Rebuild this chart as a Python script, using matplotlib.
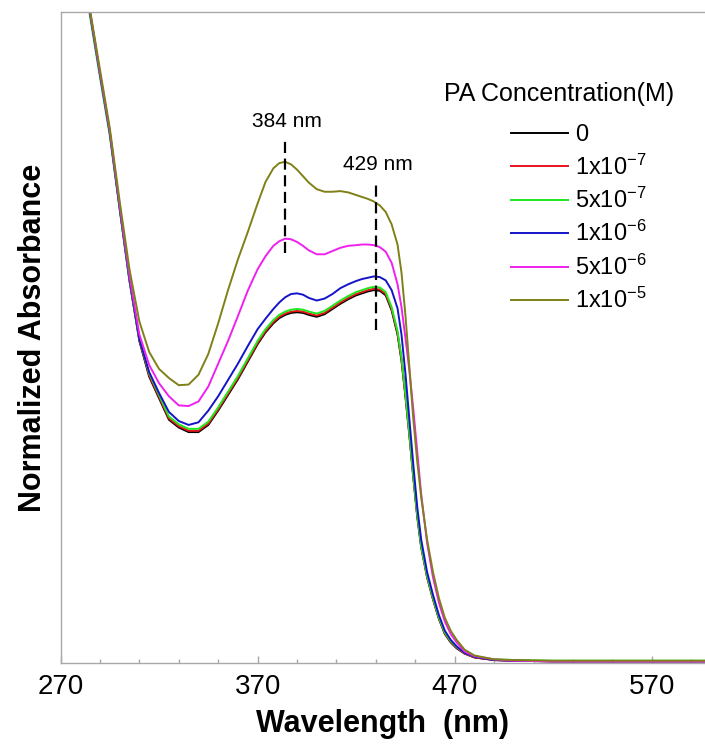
import matplotlib
matplotlib.use("Agg")
import matplotlib.pyplot as plt
from matplotlib.ticker import FixedLocator, NullFormatter

plt.rcParams['font.family'] = ['Liberation Sans', 'DejaVu Sans']
plt.rcParams['mathtext.fontset'] = 'custom'
plt.rcParams['mathtext.rm'] = 'Liberation Sans'
plt.rcParams['mathtext.it'] = 'Liberation Sans:italic'
plt.rcParams['mathtext.bf'] = 'Liberation Sans:bold'

# wavelength grid (nm) shared by all spectra
wavelength = [270, 275, 280, 285, 290, 295, 300, 305, 310, 315, 320, 325, 330, 335, 340,
              345, 350, 355, 360, 365, 370,
              374, 378, 381, 384, 387, 390, 393, 396,
              400, 404, 408, 412, 416, 420,
              423, 426, 429, 432, 435, 438, 441,
              443, 445, 447, 449, 451, 453,
              456, 459, 462, 465, 468, 471,
              475, 480, 490, 500, 520, 550, 597]

abs_0 = [1.29, 1.19, 1.09, 0.998, 0.905, 0.815, 0.70, 0.588, 0.495, 0.44, 0.407, 0.374, 0.362, 0.355, 0.355,
         0.366, 0.388, 0.412, 0.436, 0.463, 0.49,
         0.508, 0.522, 0.530, 0.535, 0.538, 0.539, 0.538, 0.535,
         0.532, 0.536, 0.544, 0.552, 0.559, 0.565,
         0.568, 0.571, 0.573, 0.572, 0.565, 0.542, 0.505,
         0.465, 0.41, 0.35, 0.285, 0.225, 0.178,
         0.132, 0.098, 0.068, 0.045, 0.032, 0.023,
         0.015, 0.009, 0.005, 0.004, 0.003, 0.003, 0.003]
abs_1e7 = [1.29, 1.19, 1.09, 0.998, 0.905, 0.815, 0.70, 0.588, 0.497, 0.442, 0.409, 0.376, 0.364, 0.357, 0.357,
           0.368, 0.39, 0.414, 0.438, 0.465, 0.492,
           0.51, 0.524, 0.532, 0.537, 0.54, 0.541, 0.54, 0.537,
           0.534, 0.538, 0.546, 0.554, 0.561, 0.567,
           0.570, 0.573, 0.575, 0.574, 0.567, 0.544, 0.507,
           0.467, 0.412, 0.352, 0.287, 0.227, 0.18,
           0.133, 0.099, 0.069, 0.046, 0.033, 0.024,
           0.015, 0.009, 0.005, 0.004, 0.003, 0.003, 0.003]
abs_5e7 = [1.285, 1.185, 1.085, 0.993, 0.90, 0.81, 0.697, 0.587, 0.498, 0.445, 0.412, 0.379, 0.367, 0.36, 0.36,
           0.371, 0.393, 0.417, 0.441, 0.468, 0.495,
           0.513, 0.527, 0.535, 0.54, 0.543, 0.544, 0.543, 0.54,
           0.537, 0.541, 0.549, 0.557, 0.564, 0.57,
           0.573, 0.576, 0.578, 0.577, 0.57, 0.547, 0.51,
           0.47, 0.414, 0.353, 0.288, 0.228, 0.18,
           0.134, 0.1, 0.07, 0.047, 0.034, 0.025,
           0.016, 0.01, 0.006, 0.005, 0.004, 0.004, 0.004]
abs_1e6 = [1.29, 1.19, 1.09, 0.998, 0.905, 0.815, 0.70, 0.59, 0.498, 0.447, 0.415, 0.386, 0.372, 0.366, 0.37,
           0.388, 0.41, 0.435, 0.46, 0.487, 0.513,
           0.529, 0.544, 0.554, 0.562, 0.567, 0.568, 0.566, 0.561,
           0.557, 0.56, 0.567, 0.576, 0.582, 0.587,
           0.59, 0.592, 0.594, 0.593, 0.588, 0.573, 0.545,
           0.505, 0.445, 0.375, 0.305, 0.24, 0.19,
           0.14, 0.105, 0.074, 0.05, 0.036, 0.026,
           0.016, 0.01, 0.005, 0.004, 0.003, 0.003, 0.003]
abs_5e6 = [1.29, 1.19, 1.09, 1.0, 0.907, 0.817, 0.703, 0.594, 0.505, 0.458, 0.43, 0.41, 0.396, 0.395, 0.402,
           0.425, 0.46, 0.495, 0.533, 0.572, 0.605,
           0.625, 0.641, 0.648, 0.652, 0.651, 0.647, 0.641, 0.634,
           0.628, 0.628, 0.633, 0.638, 0.641, 0.642,
           0.643, 0.643, 0.642, 0.639, 0.632, 0.615, 0.582,
           0.547, 0.5, 0.45, 0.39, 0.325, 0.26,
           0.185, 0.132, 0.093, 0.064, 0.045, 0.032,
           0.018, 0.011, 0.006, 0.004, 0.003, 0.003, 0.003]
abs_1e5 = [1.295, 1.195, 1.095, 1.003, 0.912, 0.822, 0.71, 0.605, 0.525, 0.478, 0.452, 0.438, 0.427, 0.428, 0.443,
           0.475, 0.522, 0.573, 0.62, 0.662, 0.706,
           0.739, 0.76, 0.768, 0.77, 0.766, 0.758, 0.748, 0.738,
           0.728, 0.724, 0.724, 0.725, 0.723, 0.719,
           0.716, 0.713, 0.709, 0.703, 0.693, 0.674, 0.643,
           0.6, 0.535, 0.455, 0.375, 0.31, 0.255,
           0.19, 0.14, 0.1, 0.07, 0.05, 0.036,
           0.021, 0.012, 0.006, 0.005, 0.004, 0.004, 0.004]

series = [abs_0, abs_1e7, abs_5e7, abs_1e6, abs_5e6, abs_1e5]
labels = ['0', r'1x10$^{-7}$', r'5x10$^{-7}$', r'1x10$^{-6}$', r'5x10$^{-6}$', r'1x10$^{-5}$']
colors = ['#000000', '#e8141c', '#1ee81e', '#1414c8', '#f020f0', '#808018']
legend_title = 'PA Concentration(M)'

# marked peaks: line position, dashed span, label text
peak_pos = [384, 430]
peak_span = [(0.63, 0.803), (0.512, 0.739)]
peak_text = ['384 nm', '429 nm']
peak_text_y = [0.832, 0.766]

fig = plt.figure(figsize=(7.05, 7.47), dpi=100)
ax = fig.add_axes([60.5 / 705, 83.7 / 747, 1 - 60.5 / 705, 651.3 / 747])

for y, lab, c in zip(series, labels, colors):
    ax.plot(wavelength, y, color=c, lw=1.4, label=lab)

for xp, (y0, y1), txt, ty in zip(peak_pos, peak_span, peak_text, peak_text_y):
    ax.plot([xp, xp], [y0, y1], color='black', lw=1.6, linestyle=(0, (5, 2.5)))
    ax.text(xp + 1, ty, txt, ha='center', va='center', fontsize=15)

ax.set_xlim(270, 597)
ax.set_ylim(0, 1.0)

ax.xaxis.set_major_locator(FixedLocator([270, 370, 470, 570]))
ax.xaxis.set_minor_locator(FixedLocator(list(range(290, 597, 20))))
ax.xaxis.set_minor_formatter(NullFormatter())
ax.tick_params(axis='x', which='major', direction='in', length=5, width=1,
               color='#a8a8a8', labelsize=20, pad=8)
ax.tick_params(axis='x', which='minor', direction='in', length=3, width=1, color='#a8a8a8')
ax.tick_params(axis='y', left=False, labelleft=False)

for s in ['left', 'top', 'bottom']:
    ax.spines[s].set_color('#a8a8a8')
    ax.spines[s].set_linewidth(1)
ax.spines['right'].set_visible(False)

ax.set_xlabel('Wavelength  (nm)', fontsize=22, fontweight='bold', labelpad=6)
ax.set_ylabel('Normalized Absorbance', fontsize=22, fontweight='bold', labelpad=9)

fig.text(444 / 705, 1 - 94 / 747, legend_title, ha='left', va='center', fontsize=18)
leg = ax.legend(loc='upper left', bbox_to_anchor=(511 / 705, 1 - 124 / 747),
                bbox_transform=fig.transFigure, frameon=False, fontsize=17,
                borderpad=0, borderaxespad=0,
                handlelength=2.4, handletextpad=0.3, labelspacing=0.35)

fig.savefig('out.png', dpi=100)
